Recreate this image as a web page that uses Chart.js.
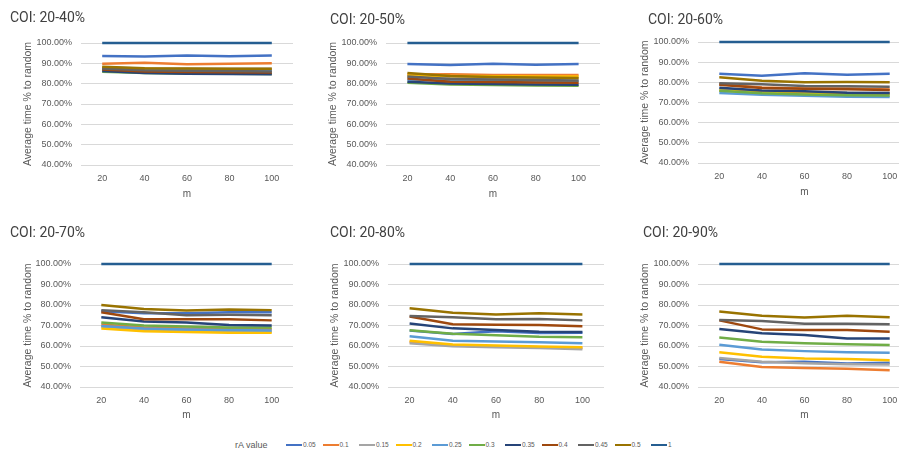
<!DOCTYPE html>
<html>
<head>
<meta charset="utf-8">
<script src="https://cdn.jsdelivr.net/npm/chart.js@4.4.1/dist/chart.umd.min.js"></script>
<style>
  html, body { margin: 0; padding: 0; background: #ffffff; }
  body { position: relative; width: 899px; height: 452px; overflow: hidden;
         font-family: "Liberation Sans", Arial, sans-serif; }
  canvas.panel { position: absolute; }
  .heading { position: absolute; font-family: Roboto, "Liberation Sans", sans-serif; font-size: 14px;
             color: #404040; white-space: nowrap; line-height: 14px; transform: translateY(-50%); }
  #legend { position: absolute; left: 0; top: 0; width: 899px; height: 452px; pointer-events: none; }
  .legend-title { position: absolute; font-size: 9px; color: #595959; white-space: nowrap;
                  transform: translateY(-50%); line-height: 10px; }
  .legend-item { position: absolute; display: flex; align-items: center; transform: translateY(-50%); }
  .legend-swatch { width: 16px; height: 2.5px; }
  .legend-label { margin-left: 1px; font-size: 6.5px; color: #595959; line-height: 8px; }
</style>
</head>
<body>
<div id="legend"></div>
<script>
// m values on the x axis
const mValues = ['20', '40', '60', '80', '100'];

// rA values, one line per value
const rAValues = ['0.05', '0.1', '0.15', '0.2', '0.25', '0.3', '0.35', '0.4', '0.45', '0.5', '1'];

// Average time as % of random, one row per rA value (same order as rAValues)
const coi20to40 = [
  [93.6, 93.3, 93.8, 93.5, 93.8],
  [89.8, 90.3, 89.6, 89.8, 90.0],
  [88.0, 87.5, 87.3, 87.3, 87.3],
  [87.8, 87.3, 87.0, 87.0, 87.0],
  [87.3, 86.8, 86.6, 86.5, 86.5],
  [85.8, 85.3, 85.0, 84.9, 84.8],
  [86.2, 85.2, 84.9, 84.7, 84.6],
  [87.0, 86.0, 85.7, 85.6, 85.5],
  [87.5, 86.6, 86.3, 86.2, 86.0],
  [88.3, 87.6, 87.4, 87.3, 87.3],
  [100, 100, 100, 100, 100]
];

const coi20to50 = [
  [89.7, 89.2, 89.8, 89.3, 89.7],
  [84.5, 84.6, 84.3, 84.3, 84.3],
  [83.5, 83.0, 82.8, 82.8, 82.7],
  [84.0, 83.8, 83.6, 83.5, 83.5],
  [82.0, 81.5, 81.3, 81.2, 81.2],
  [80.4, 79.6, 79.3, 79.1, 79.0],
  [81.0, 80.1, 79.8, 79.6, 79.5],
  [82.5, 81.0, 80.8, 80.6, 80.5],
  [83.5, 82.3, 82.0, 81.8, 81.6],
  [85.3, 83.8, 83.3, 83.0, 82.8],
  [100, 100, 100, 100, 100]
];

const coi20to60 = [
  [84.2, 83.3, 84.5, 83.8, 84.3],
  [79.0, 77.5, 77.0, 77.0, 76.5],
  [76.5, 75.5, 75.0, 74.8, 74.7],
  [76.0, 75.0, 74.5, 74.3, 74.2],
  [74.7, 73.8, 73.3, 72.9, 72.7],
  [75.8, 74.6, 74.0, 73.6, 73.5],
  [77.3, 76.0, 75.6, 74.8, 74.7],
  [78.8, 77.2, 76.8, 76.6, 76.2],
  [79.5, 79.0, 78.2, 78.0, 77.8],
  [82.5, 80.8, 80.0, 80.2, 80.0],
  [100, 100, 100, 100, 100]
];

const coi20to70 = [
  [77.0, 76.0, 76.0, 76.5, 76.5],
  [70.5, 69.0, 68.5, 68.3, 68.2],
  [69.5, 67.8, 67.3, 67.0, 67.0],
  [68.5, 67.2, 66.8, 66.5, 66.5],
  [69.8, 68.5, 68.0, 67.8, 67.6],
  [71.5, 70.0, 69.5, 69.0, 69.0],
  [74.0, 72.0, 71.5, 70.3, 70.0],
  [76.5, 73.0, 73.0, 73.0, 72.5],
  [77.5, 76.5, 75.0, 75.2, 75.0],
  [80.0, 78.0, 77.3, 77.8, 77.5],
  [100, 100, 100, 100, 100]
];

const coi20to80 = [
  [67.5, 65.8, 67.2, 66.3, 66.5],
  [62.0, 60.3, 59.8, 59.4, 59.0],
  [61.3, 59.9, 59.4, 59.0, 58.4],
  [62.6, 60.7, 60.2, 59.8, 59.4],
  [64.7, 62.6, 62.2, 61.8, 61.3],
  [67.7, 66.0, 65.2, 64.5, 64.3],
  [71.0, 68.6, 67.8, 67.0, 66.8],
  [74.4, 70.6, 70.4, 70.2, 69.6],
  [74.6, 74.0, 73.0, 73.2, 72.5],
  [78.4, 76.2, 75.4, 76.0, 75.4],
  [100, 100, 100, 100, 100]
];

const coi20to90 = [
  [53.6, 52.1, 52.3, 51.5, 51.8],
  [52.3, 49.8, 49.3, 48.9, 48.2],
  [54.2, 52.3, 51.6, 51.1, 51.0],
  [56.9, 54.7, 53.9, 53.6, 53.1],
  [60.6, 58.3, 57.5, 57.0, 56.7],
  [64.1, 62.1, 61.3, 60.8, 60.5],
  [68.3, 66.2, 65.4, 63.7, 63.7],
  [72.5, 68.1, 67.8, 67.8, 67.0],
  [72.7, 72.2, 70.9, 70.9, 70.6],
  [76.8, 74.8, 73.9, 74.8, 74.0],
  [100, 100, 100, 100, 100]
];

// Y axis range and tick step (percent)
const yMin = 40, yMax = 100, yStep = 10;

// Office-style series palette
const seriesColors = ['#4472C4', '#ED7D31', '#A5A5A5', '#FFC000', '#5B9BD5', '#70AD47',
                      '#264478', '#9E480E', '#636363', '#997300', '#255E91'];

// Panel placement (canvas box, plot box, text anchors), in page pixels
const panels = [
  { title: 'COI: 20-40%', rows: coi20to40, box: [0, 0, 300, 210],   plot: [81, 43, 293, 165],  yTitleX: 28,  xTitleY: 194, head: [10, 17] },
  { title: 'COI: 20-50%', rows: coi20to50, box: [300, 0, 300, 210], plot: [386, 43, 600, 165], yTitleX: 333, xTitleY: 194, head: [330, 19] },
  { title: 'COI: 20-60%', rows: coi20to60, box: [600, 0, 311, 210], plot: [698, 42, 911, 163], yTitleX: 645, xTitleY: 192, head: [648, 19] },
  { title: 'COI: 20-70%', rows: coi20to70, box: [0, 215, 300, 210], plot: [80, 264, 293, 387], yTitleX: 28,  xTitleY: 415, head: [10, 232] },
  { title: 'COI: 20-80%', rows: coi20to80, box: [300, 215, 304, 210], plot: [388, 264, 604, 387], yTitleX: 335, xTitleY: 415, head: [330, 232] },
  { title: 'COI: 20-90%', rows: coi20to90, box: [600, 215, 311, 210], plot: [698, 264, 911, 387], yTitleX: 645, xTitleY: 415, head: [643, 232] }
];

const axisText = '#595959';
const gridColor = '#D9D9D9';

panels.forEach(p => {
  const [bx, by, bw, bh] = p.box;
  const [pl, pt, pr, pb] = p.plot;

  const canvas = document.createElement('canvas');
  canvas.className = 'panel';
  canvas.width = bw; canvas.height = bh;
  canvas.style.left = bx + 'px'; canvas.style.top = by + 'px';
  canvas.style.width = bw + 'px'; canvas.style.height = bh + 'px';
  document.body.appendChild(canvas);

  const head = document.createElement('div');
  head.className = 'heading';
  head.textContent = p.title;
  head.style.left = p.head[0] + 'px';
  head.style.top = p.head[1] + 'px';
  document.body.appendChild(head);

  const yTitleSize = 10.5, yTitleLH = yTitleSize * 1.2;
  const xTitleSize = 10, xTitleLH = xTitleSize * 1.2;
  const yAxisWidth = pl - bx;
  const xAxisHeight = by + bh - pb;

  new Chart(canvas, {
    type: 'line',
    data: {
      labels: mValues,
      datasets: p.rows.map((vals, i) => ({
        label: rAValues[i],
        data: vals,
        borderColor: seriesColors[i],
        backgroundColor: seriesColors[i],
        borderWidth: 2.5,
        pointRadius: 0,
        tension: 0,
        borderJoinStyle: 'round',
        clip: false,
        order: rAValues.length - i
      }))
    },
    options: {
      responsive: false,
      animation: false,
      events: [],
      layout: { padding: { top: pt - by, right: bx + bw - pr, bottom: 0, left: 0 } },
      plugins: { legend: { display: false }, tooltip: { enabled: false }, title: { display: false } },
      scales: {
        x: {
          type: 'category',
          offset: true,
          grid: { display: false, drawTicks: false },
          border: { display: false },
          ticks: { color: axisText, font: { family: 'Liberation Sans', size: 9 }, padding: 8, maxRotation: 0 },
          title: {
            display: true, text: 'm', color: axisText,
            font: { family: 'Liberation Sans', size: xTitleSize },
            padding: { top: 0, bottom: (by + bh) - p.xTitleY - xTitleLH / 2 }
          },
          afterFit: s => { s.height = xAxisHeight; }
        },
        y: {
          min: yMin, max: yMax,
          grid: { color: gridColor, lineWidth: 1, drawTicks: false },
          border: { display: false },
          ticks: {
            stepSize: yStep, color: axisText, padding: 9,
            font: { family: 'Liberation Sans', size: 9 },
            callback: v => v.toFixed(2) + '%'
          },
          title: {
            display: true, text: 'Average time % to random', color: axisText,
            font: { family: 'Liberation Sans', size: yTitleSize },
            padding: { top: p.yTitleX - bx - yTitleLH / 2, bottom: 0 }
          },
          afterFit: s => { s.width = yAxisWidth; }
        }
      }
    }
  });
});

// Shared legend for the rA series
const legend = document.getElementById('legend');
const legendY = 445;
const legendTitle = document.createElement('div');
legendTitle.className = 'legend-title';
legendTitle.textContent = 'rA value';
legendTitle.style.left = '235px';
legendTitle.style.top = legendY + 'px';
legend.appendChild(legendTitle);

rAValues.forEach((name, i) => {
  const item = document.createElement('div');
  item.className = 'legend-item';
  item.style.left = (286 + i * 36.5) + 'px';
  item.style.top = legendY + 'px';
  const sw = document.createElement('span');
  sw.className = 'legend-swatch';
  sw.style.background = seriesColors[i];
  const lb = document.createElement('span');
  lb.className = 'legend-label';
  lb.textContent = name;
  item.appendChild(sw); item.appendChild(lb);
  legend.appendChild(item);
});
</script>
</body>
</html>
